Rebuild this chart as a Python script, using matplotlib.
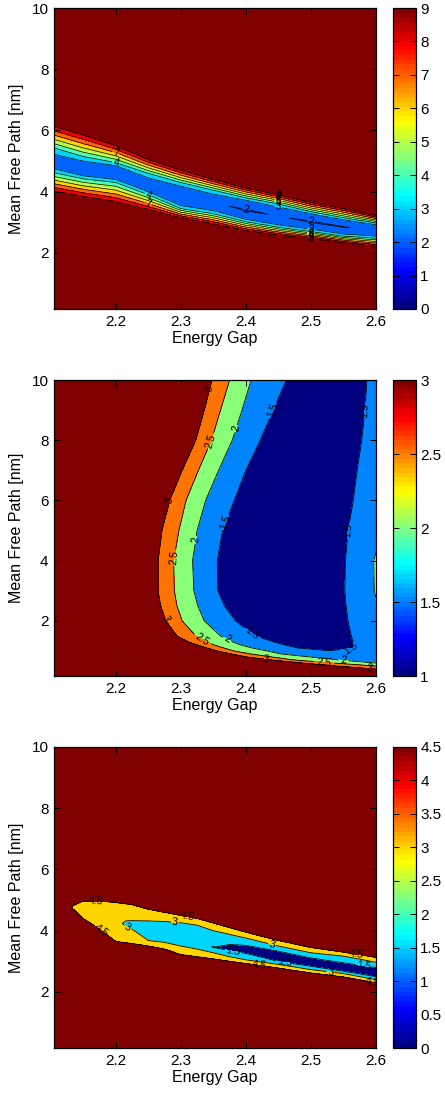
import numpy as np
import matplotlib
matplotlib.use('Agg')
import matplotlib.pyplot as plt
from matplotlib.colors import LinearSegmentedColormap, Normalize
from matplotlib.cm import ScalarMappable

plt.rcParams['font.family'] = ['Liberation Sans', 'DejaVu Sans']

# MATLAB-style jet colormap (64 steps)
jet = LinearSegmentedColormap.from_list(
    'mjet', [(0, (0, 0, .5)), (1/8, (0, 0, 1)), (3/8, (0, 1, 1)),
             (5/8, (1, 1, 0)), (7/8, (1, 0, 0)), (1, (.5, 0, 0))], N=64)

# ---------------- panel 1: contour crossings read per column ----------------
x1 = [2.105, 2.15, 2.2, 2.25, 2.3, 2.35, 2.4, 2.45, 2.5, 2.55, 2.6]
p1_lo9 = [4.02, 3.85, 3.68, 3.42, 3.15, 2.95, 2.73, 2.58, 2.47, 2.33, 2.22]
p1_lo4 = [4.62, 4.42, 4.30, 3.90, 3.45, 3.28, 3.02, 2.84, 2.70, 2.55, 2.48]
p1_lo3 = [4.75, 4.52, 4.40, 4.00, 3.55, 3.38, 3.10, 2.92, 2.78, 2.62, 2.55]
p1_mid = [4.98, 4.75, 4.65, 4.20, 3.85, 3.65, 3.40, 3.20, 3.02, 2.85, 2.75]
p1_up3 = [5.22, 5.00, 4.85, 4.45, 4.18, 3.92, 3.72, 3.50, 3.28, 3.08, 2.92]
p1_up4 = [5.43, 5.15, 4.95, 4.60, 4.30, 4.05, 3.80, 3.60, 3.35, 3.15, 2.98]
p1_up9 = [6.13, 5.85, 5.50, 5.05, 4.70, 4.40, 4.12, 3.90, 3.65, 3.45, 3.22]
p1_mid_val = [2.4, 2.3, 2.3, 2.3, 2.3, 2.1, 1.9, 2.05, 1.9, 1.95, 2.2]
p1_cap = 10.0
p1_levels = [0, 1, 2, 3, 4, 5, 6, 7, 8, 9]
p1_ticks = [0, 1, 2, 3, 4, 5, 6, 7, 8, 9]

# ---------------- panel 2: contour crossings read per row ----------------
y2 = [0.1, 0.4, 0.5, 0.6, 0.7, 0.8, 0.9, 1.0, 1.1, 1.2, 1.3, 1.5, 2.0, 2.5,
      3.0, 4.0, 5.0, 6.0, 7.0, 8.0, 9.0, 10.0]
p2_c3 = [2.66, 2.60, 2.54, 2.487, 2.44, 2.402, 2.378, 2.356, 2.34, 2.325, 2.312,
         2.294, 2.277, 2.269, 2.265, 2.265, 2.271, 2.283, 2.302, 2.323, 2.336, 2.348]
p2_c25 = [2.67, 2.62, 2.60, 2.535, 2.475, 2.44, 2.408, 2.382, 2.366, 2.351, 2.34,
          2.323, 2.302, 2.294, 2.290, 2.289, 2.297, 2.308, 2.327, 2.347, 2.361, 2.375]
p2_c2 = [2.68, 2.63, 2.62, 2.60, 2.545, 2.50, 2.455, 2.433, 2.41, 2.392, 2.38,
         2.361, 2.336, 2.326, 2.320, 2.318, 2.325, 2.338, 2.358, 2.379, 2.394, 2.408]
p2_c15l = [2.69, 2.64, 2.63, 2.61, 2.56, 2.53, 2.50, 2.50, 2.48, 2.46, 2.443,
           2.415, 2.384, 2.367, 2.357, 2.356, 2.364, 2.382, 2.400, 2.422, 2.442, 2.462]
p2_cmid = [2.70, 2.65, 2.64, 2.62, 2.575, 2.55, 2.53, 2.53, 2.52, 2.51, 2.50,
           2.49, 2.47, 2.46, 2.45, 2.45, 2.46, 2.47, 2.48, 2.50, 2.51, 2.52]
p2_c15r = [2.71, 2.66, 2.65, 2.63, 2.59, 2.575, 2.565, 2.565, 2.565, 2.565, 2.565,
           2.562, 2.557, 2.554, 2.552, 2.553, 2.557, 2.565, 2.571, 2.578, 2.583, 2.586]
p2_xr = [2.72, 2.67, 2.66, 2.64, 2.60, 2.60, 2.60, 2.60, 2.60, 2.60, 2.60,
         2.60, 2.60, 2.60, 2.60, 2.60, 2.60, 2.60, 2.60, 2.60, 2.60, 2.60]
p2_z15l = [1.9, 1.9, 1.9, 1.95, 1.95, 1.85, 1.8, 1.55, 1.5, 1.5, 1.5, 1.5, 1.5,
           1.5, 1.5, 1.5, 1.5, 1.5, 1.5, 1.5, 1.5, 1.5]
p2_zmid = [1.9, 1.9, 1.9, 1.9, 1.9, 1.8, 1.75, 1.52, 1.35, 1.2, 1.18, 1.15, 1.1,
           1.1, 1.1, 1.1, 1.1, 1.1, 1.1, 1.1, 1.1, 1.1]
p2_z15r = [1.9, 1.9, 1.9, 1.9, 1.9, 1.8, 1.75, 1.55, 1.5, 1.5, 1.5, 1.5, 1.5,
           1.5, 1.5, 1.5, 1.5, 1.5, 1.5, 1.5, 1.5, 1.5]
p2_zr = [1.9, 1.9, 1.9, 1.9, 1.9, 1.8, 1.75, 1.7, 1.7, 1.75, 1.75, 1.8, 1.9, 1.97,
         2.03, 2.04, 1.9, 1.75, 1.7, 1.65, 1.6, 1.6]
p2_left = 3.5
p2_levels = [1, 1.5, 2, 2.5, 3]
p2_ticks = [1, 1.5, 2, 2.5, 3]
# contour label spots
p2_label_at = [(2.345, 9.7), (2.283, 6.0), (2.278, 2.1), (2.43, 0.72), (2.59, 0.38),
               (2.343, 8.0), (2.29, 4.1), (2.33, 1.3), (2.52, 0.6),
               (2.38, 8.4), (2.32, 4.7), (2.37, 1.35), (2.55, 0.68),
               (2.44, 9.0), (2.365, 5.3), (2.41, 1.6), (2.56, 1.15),
               (2.555, 5.0), (2.584, 9.0)]

# ---------------- panel 3: contour crossings read per column ----------------
x3 = [2.105, 2.13, 2.15, 2.175, 2.2, 2.225, 2.25, 2.275, 2.3, 2.325, 2.35,
      2.375, 2.4, 2.45, 2.5, 2.55, 2.6]
p3_lo45 = [4.70, 4.76, 4.40, 4.05, 3.65, 3.58, 3.50, 3.40, 3.22, 3.15, 3.08,
           3.00, 2.93, 2.78, 2.62, 2.49, 2.30]
p3_lo3 = [4.72, 4.77, 4.50, 4.25, 4.00, 4.05, 3.68, 3.62, 3.50, 3.40, 3.28,
          3.15, 3.05, 2.90, 2.73, 2.60, 2.40]
p3_lo15 = [4.74, 4.78, 4.60, 4.40, 4.15, 4.12, 3.85, 3.80, 3.70, 3.60, 3.42,
           3.35, 3.26, 3.00, 2.84, 2.68, 2.50]
p3_mid = [4.76, 4.79, 4.68, 4.50, 4.28, 4.19, 4.00, 3.96, 3.88, 3.79, 3.46,
          3.45, 3.39, 3.16, 2.97, 2.81, 2.65]
p3_up15 = [4.78, 4.80, 4.76, 4.60, 4.42, 4.26, 4.16, 4.13, 4.06, 3.98, 3.50,
           3.55, 3.52, 3.33, 3.11, 2.95, 2.80]
p3_up3 = [4.80, 4.81, 4.85, 4.75, 4.60, 4.33, 4.32, 4.30, 4.26, 4.18, 4.00,
          3.88, 3.76, 3.50, 3.28, 3.17, 2.97]
p3_up45 = [4.82, 4.82, 4.97, 4.97, 4.92, 4.85, 4.70, 4.60, 4.50, 4.40, 4.25,
           4.10, 3.95, 3.68, 3.45, 3.30, 3.13]
p3_z45 = [5.0, 4.6, 4.5, 4.5, 4.5, 4.5, 4.5, 4.5, 4.5, 4.5, 4.5, 4.5, 4.5,
          4.5, 4.5, 4.5, 4.5]
p3_z3 = [5.0, 4.6, 4.1, 4.0, 4.0, 3.0, 3.0, 3.0, 3.0, 3.0, 3.0, 3.0, 3.0,
         3.0, 3.0, 3.0, 3.0]
p3_z15 = [5.0, 4.6, 3.9, 3.8, 3.8, 2.5, 2.5, 2.5, 2.5, 2.5, 2.0, 1.5, 1.5,
          1.5, 1.5, 1.5, 1.5]
p3_zmid = [5.0, 4.6, 3.7, 3.6, 3.6, 2.1, 2.1, 2.1, 2.1, 2.0, 1.45, 0.8, 0.8,
           0.8, 0.8, 0.8, 0.8]
p3_cap = 5.0
p3_levels = [0, 1.5, 3, 4.5]
p3_ticks = [0, 0.5, 1, 1.5, 2, 2.5, 3, 3.5, 4, 4.5]
p3_label_at = [(2.17, 4.97), (2.18, 4.1), (2.31, 4.45), (2.42, 2.88), (2.57, 3.22),
               (2.595, 2.3), (2.22, 4.2), (2.29, 4.0), (2.44, 3.55), (2.53, 2.65),
               (2.38, 3.35), (2.46, 3.1), (2.58, 2.72)]

x_ticks = [2.2, 2.3, 2.4, 2.5, 2.6]
y_ticks = [2, 4, 6, 8, 10]


def column_grid(x, rows_y, rows_z):
    X = np.tile(np.array(x, dtype=float), (len(rows_y), 1))
    return X, np.array(rows_y, dtype=float), np.array(rows_z, dtype=float)


# panel 1 grid
n1 = len(x1)
X1, Y1, Z1 = column_grid(
    x1,
    [[0.0] * n1, p1_lo9, p1_lo4, p1_lo3, p1_mid, p1_up3, p1_up4, p1_up9, [10.0] * n1],
    [[p1_cap] * n1, [9] * n1, [4] * n1, [3] * n1, p1_mid_val,
     [3] * n1, [4] * n1, [9] * n1, [p1_cap] * n1])

# panel 2 grid (rows along y)
n2 = len(y2)
X2 = np.column_stack([[2.1] * n2, p2_c3, p2_c25, p2_c2, p2_c15l, p2_cmid, p2_c15r, p2_xr])
Y2 = np.tile(np.array(y2)[:, None], (1, X2.shape[1]))
Z2 = np.column_stack([[p2_left] * n2, [3] * n2, [2.5] * n2, [2] * n2,
                      p2_z15l, p2_zmid, p2_z15r, p2_zr])

# panel 3 grid
n3 = len(x3)
X3, Y3, Z3 = column_grid(
    x3,
    [[0.0] * n3, p3_lo45, p3_lo3, p3_lo15, p3_mid, p3_up15, p3_up3, p3_up45, [10.0] * n3],
    [[p3_cap] * n3, p3_z45, p3_z3, p3_z15, p3_zmid, p3_z15, p3_z3, p3_z45, [p3_cap] * n3])

W, H = 445, 1094
fig = plt.figure(figsize=(W / 100, H / 100), dpi=100)

panels = [
    (X1, Y1, Z1, p1_levels, p1_ticks, None, 0.5, (8, 309)),
    (X2, Y2, Z2, p2_levels, p2_ticks, p2_label_at, 0.6, (380, 676)),
    (X3, Y3, Z3, p3_levels, p3_ticks, p3_label_at, 0.6, (747, 1048)),
]

for X, Y, Z, levels, cticks, label_at, lw, (top, bot) in panels:
    ax = fig.add_axes([54 / W, 1 - bot / H, 322 / W, (bot - top) / H])
    cax = fig.add_axes([393 / W, 1 - bot / H, 23 / W, (bot - top) / H])
    vmin, vmax = levels[0], levels[-1]
    norm = Normalize(vmin, vmax)
    fills = [jet(norm(l)) for l in levels]
    ax.set_facecolor(jet(1.0))
    ax.contourf(X, Y, Z, levels=list(levels) + [100], colors=fills)
    cs = ax.contour(X, Y, Z, levels=levels[1:], colors='k', linewidths=lw)
    if label_at is None:
        ax.clabel(cs, fontsize=7.5, fmt='%g', inline=True, inline_spacing=1)
    else:
        ax.clabel(cs, fontsize=7.5, fmt='%g', inline=True, inline_spacing=1,
                  manual=label_at)

    ax.set_xlim(2.105, 2.6)
    ax.set_ylim(0.17, 10)
    ax.set_xticks(x_ticks)
    ax.set_xticklabels([f'{t:g}' for t in x_ticks])
    ax.set_yticks(y_ticks)
    ax.tick_params(direction='in', top=True, right=True, length=4, width=0.7,
                   labelsize=11, pad=4)
    for sp in ax.spines.values():
        sp.set_linewidth(0.9)
    ax.set_xlabel('Energy Gap', fontsize=11.5, labelpad=2)
    ax.set_ylabel('Mean Free Path [nm]', fontsize=11.5, labelpad=5)

    cb = fig.colorbar(ScalarMappable(norm=norm, cmap=jet), cax=cax, ticks=cticks)
    cb.ax.set_yticklabels([f'{t:g}' for t in cticks])
    cb.outline.set_linewidth(0.9)
    cax.tick_params(direction='in', left=True, right=True, length=4, width=0.7,
                    labelsize=11, pad=3)

fig.savefig('out.png', dpi=100)
